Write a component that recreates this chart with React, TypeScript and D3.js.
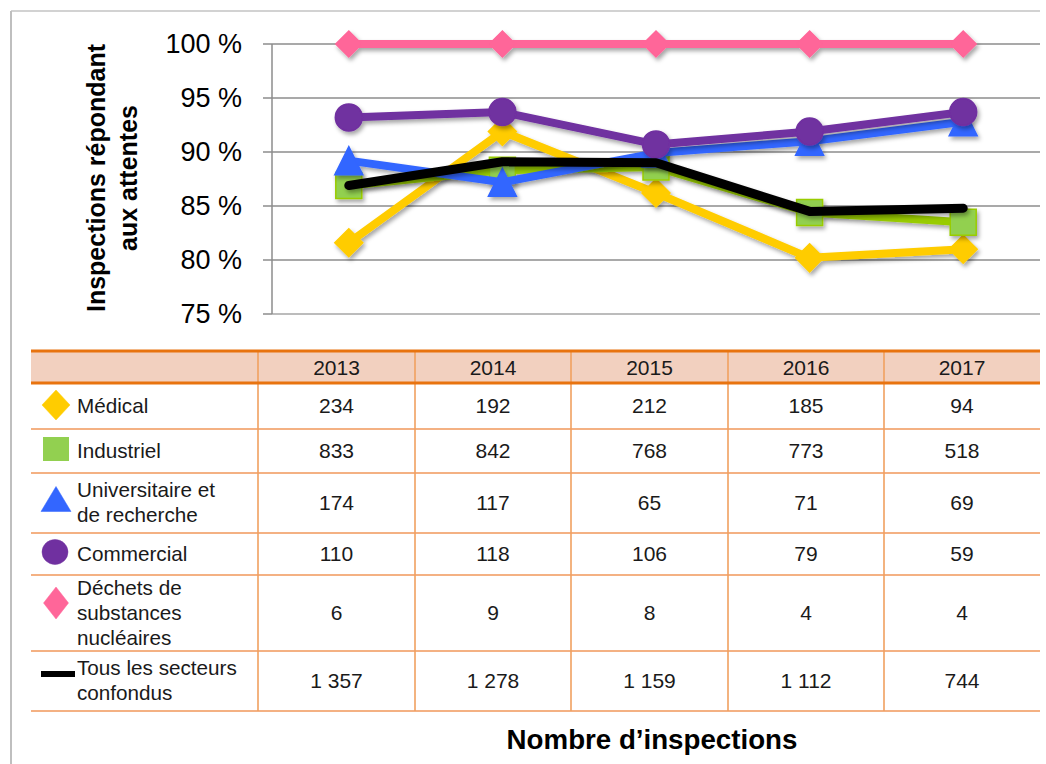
import React from "react";
import * as d3 from "d3";

const years = ["2013", "2014", "2015", "2016", "2017"];
const yTicks = [75, 80, 85, 90, 95, 100];

const medical = [81.6, 91.9, 86.2, 80.2, 81.0];
const industriel = [86.9, 88.3, 88.6, 84.4, 83.5];
const universitaire = [89.2, 87.2, 89.9, 91.0, 92.8];
const commercial = [93.2, 93.7, 90.7, 91.9, 93.7];
const dechets = [100, 100, 100, 100, 100];
const tous = [86.9, 89.1, 89.0, 84.5, 84.8];

const countsMedical = ["234", "192", "212", "185", "94"];
const countsIndustriel = ["833", "842", "768", "773", "518"];
const countsUniversitaire = ["174", "117", "65", "71", "69"];
const countsCommercial = ["110", "118", "106", "79", "59"];
const countsDechets = ["6", "9", "8", "4", "4"];
const countsTous = ["1 357", "1 278", "1 159", "1 112", "744"];

const labelMedical = ["Médical"];
const labelIndustriel = ["Industriel"];
const labelUniversitaire = ["Universitaire et", "de recherche"];
const labelCommercial = ["Commercial"];
const labelDechets = ["Déchets de", "substances", "nucléaires"];
const labelTous = ["Tous les secteurs", "confondus"];

const FONT = "'Liberation Sans', Arial, sans-serif";

type Marker = "diamond" | "square" | "triangle" | "circle" | "none";

const series = [
  { key: "med", values: medical, line: "#ffcc00", fill: "#ffcc00", stroke: "#ffcc00", marker: "diamond" as Marker, size: 28, counts: countsMedical, label: labelMedical },
  { key: "ind", values: industriel, line: "#99cc00", fill: "#92d050", stroke: "#99cc00", marker: "square" as Marker, size: 26, counts: countsIndustriel, label: labelIndustriel },
  { key: "uni", values: universitaire, line: "#3366ff", fill: "#3366ff", stroke: "#3366ff", marker: "triangle" as Marker, size: 28, counts: countsUniversitaire, label: labelUniversitaire },
  { key: "com", values: commercial, line: "#7030a0", fill: "#7030a0", stroke: "#7030a0", marker: "circle" as Marker, size: 27, counts: countsCommercial, label: labelCommercial },
  { key: "dec", values: dechets, line: "#ff6699", fill: "#ff6699", stroke: "#ff6699", marker: "diamond" as Marker, size: 26, counts: countsDechets, label: labelDechets },
  { key: "tous", values: tous, line: "#000000", fill: "#000000", stroke: "#000000", marker: "none" as Marker, size: 0, counts: countsTous, label: labelTous },
];

function markerPath(m: Marker, w: number, h: number): string {
  if (m === "diamond") return `M0,${-h / 2}L${w / 2},0L0,${h / 2}L${-w / 2},0Z`;
  if (m === "square") return `M${-w / 2},${-h / 2}H${w / 2}V${h / 2}H${-w / 2}Z`;
  if (m === "triangle") return `M0,${-h / 2}L${w / 2},${h / 2}L${-w / 2},${h / 2}Z`;
  if (m === "circle") {
    return `M${w / 2},0A${w / 2},${h / 2} 0 1,1 ${-w / 2},0A${w / 2},${h / 2} 0 1,1 ${w / 2},0Z`;
  }
  return "";
}

export default function App() {
  const plotLeft = 272;
  const plotRight = 1040;
  const plotTop = 44;
  const plotBottom = 314;

  const x = d3.scalePoint<string>().domain(years).range([plotLeft, plotRight]).padding(0.5);
  const y = d3.scaleLinear().domain([75, 100]).range([plotBottom, plotTop]);

  const line = d3
    .line<number>()
    .x((_, i) => x(years[i]) as number)
    .y((d) => y(d));

  const tableLeft = 31;
  const tableRight = 1040;
  const colEdges = [258, 415, 571, 728, 884, 1040];
  const headerTop = 351;
  const headerBottom = 383;
  const rowEdges = [383, 429, 473, 533, 575, 651, 711];
  const lineH = 25;

  const legendMarkers = [
    { cx: 56, cy: 405, w: 28, h: 30 },
    { cx: 56, cy: 449, w: 26, h: 24 },
    { cx: 56, cy: 499, w: 30, h: 25 },
    { cx: 55, cy: 552, w: 26, h: 25 },
    { cx: 56, cy: 603, w: 25, h: 32 },
    { cx: 58, cy: 674, w: 34, h: 6 },
  ];

  const textColor = "#1a1a1a";

  return (
    <svg
      width={1046}
      height={764}
      style={{ position: "absolute", left: 0, top: 0, background: "#fff" }}
      fontFamily={FONT}
    >
      <defs>
        <filter id="shadow" x="-20%" y="-20%" width="140%" height="160%">
          <feDropShadow dx="2" dy="3" stdDeviation="2" floodColor="#000" floodOpacity="0.35" />
        </filter>
      </defs>

      {/* outer frame */}
      <line x1={11} y1={11} x2={1040} y2={11} stroke="#a6a6a6" strokeWidth={1.2} />
      <line x1={11} y1={11} x2={11} y2={764} stroke="#bfbfbf" strokeWidth={2} />

      {/* gridlines and ticks */}
      {yTicks.map((t) => (
        <g key={t}>
          <line x1={plotLeft} x2={plotRight} y1={y(t)} y2={y(t)} stroke={t === 75 ? "#a6a6a6" : "#8c8c8c"} strokeWidth={1.5} />
          <line x1={263} x2={plotLeft} y1={y(t)} y2={y(t)} stroke="#8c8c8c" strokeWidth={1.5} />
          <text x={242} y={y(t)} dy="0.35em" textAnchor="end" fontSize={27} fill="#000">
            {`${t} %`}
          </text>
        </g>
      ))}
      <line x1={plotLeft} x2={plotLeft} y1={plotTop} y2={plotBottom} stroke="#8c8c8c" strokeWidth={1.5} />

      {/* y axis title */}
      <g transform={`translate(0,178) rotate(-90)`}>
        <text x={0} y={105} textAnchor="middle" fontSize={25} fontWeight="bold" fill="#000">
          Inspections répondant
        </text>
        <text x={0} y={137} textAnchor="middle" fontSize={25} fontWeight="bold" fill="#000">
          aux attentes
        </text>
      </g>

      {/* series */}
      {series.map((s) => (
        <g key={s.key} filter="url(#shadow)">
          <path d={line(s.values) || ""} fill="none" stroke={s.line} strokeWidth={s.key === "tous" ? 9 : 8} strokeLinejoin="round" strokeLinecap="round" />
          {s.marker !== "none" &&
            s.values.map((v, i) => (
              <path
                key={i}
                transform={`translate(${x(years[i])},${y(v)})`}
                d={markerPath(s.marker, s.size, s.size)}
                fill={s.fill}
                stroke={s.stroke}
                strokeWidth={1.5}
              />
            ))}
        </g>
      ))}

      {/* table header */}
      <rect x={tableLeft} y={headerTop} width={tableRight - tableLeft} height={headerBottom - headerTop} fill="#f2d0bf" />
      {years.map((yr, i) => (
        <text key={yr} x={(colEdges[i] + colEdges[i + 1]) / 2} y={374.5} textAnchor="middle" fontSize={21} fill={textColor}>
          {yr}
        </text>
      ))}

      {rowEdges.slice(1).map((ry, i) => (
        <line key={i} x1={tableLeft} x2={tableRight} y1={ry} y2={ry} stroke="#f4b183" strokeWidth={2} />
      ))}
      {colEdges.slice(0, 5).map((cx, i) => (
        <line key={i} x1={cx} x2={cx} y1={headerTop} y2={rowEdges[rowEdges.length - 1]} stroke="#f0a060" strokeWidth={1.6} />
      ))}
      <line x1={tableLeft} x2={tableRight} y1={headerTop} y2={headerTop} stroke="#e8730f" strokeWidth={3} />
      <line x1={tableLeft} x2={tableRight} y1={headerBottom} y2={headerBottom} stroke="#e8730f" strokeWidth={3} />

      {series.map((s, r) => {
        const top = rowEdges[r];
        const bottom = rowEdges[r + 1];
        const center = (top + bottom) / 2;
        const n = s.label.length;
        const firstBaseline = center + 6.5 - ((n - 1) * lineH) / 2;
        const lm = legendMarkers[r];
        return (
          <g key={s.key}>
            {s.marker === "none" ? (
              <rect x={lm.cx - lm.w / 2} y={lm.cy - lm.h / 2} width={lm.w} height={lm.h} fill="#000" />
            ) : (
              <path
                transform={`translate(${lm.cx},${lm.cy})`}
                d={markerPath(s.marker, lm.w, lm.h)}
                fill={s.fill}
                stroke={s.marker === "square" ? "none" : s.stroke}
                strokeWidth={0.5}
              />
            )}
            {s.label.map((l, k) => (
              <text key={k} x={77} y={firstBaseline + k * lineH} fontSize={20.7} fill={textColor}>
                {l}
              </text>
            ))}
            {s.counts.map((c, i) => (
              <text key={i} x={(colEdges[i] + colEdges[i + 1]) / 2} y={center + 7} textAnchor="middle" fontSize={21} fill={textColor}>
                {c}
              </text>
            ))}
          </g>
        );
      })}

      {/* x title */}
      <text x={652} y={749} textAnchor="middle" fontSize={27.7} fontWeight="bold" fill="#000">
        Nombre d’inspections
      </text>
    </svg>
  );
}
